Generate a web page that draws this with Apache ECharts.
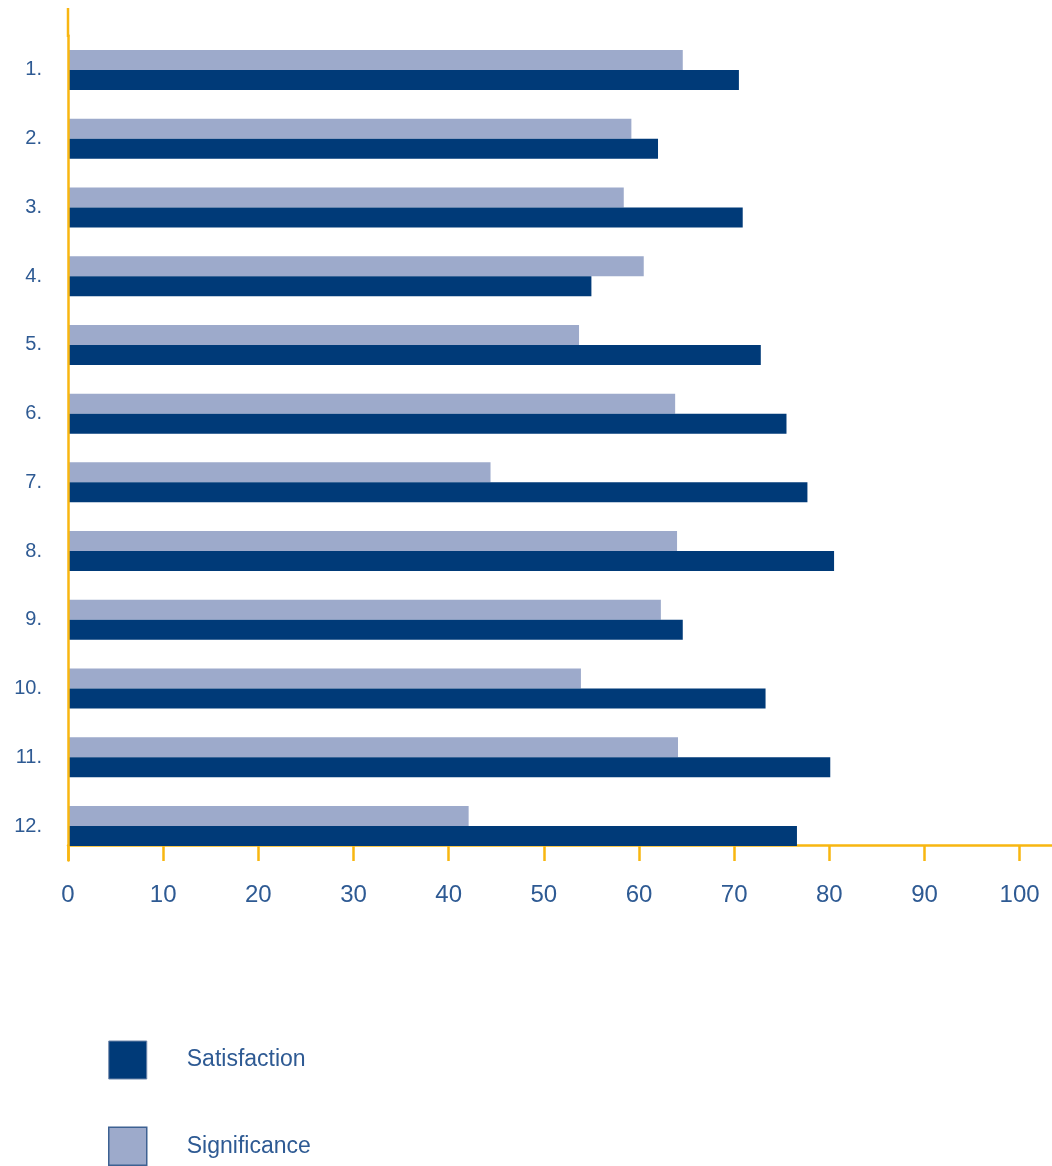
<!DOCTYPE html>
<html>
<head>
<meta charset="utf-8">
<title>Satisfaction and Significance</title>
<script src="https://cdn.jsdelivr.net/npm/echarts@6/dist/echarts.min.js"></script>
<style>
  html, body { margin: 0; padding: 0; background: #ffffff; }
  #chart { width: 1052px; height: 1166px; }
</style>
</head>
<body>
<div id="chart"></div>
<script>
// Item labels, top to bottom
const categories = ['1.', '2.', '3.', '4.', '5.', '6.', '7.', '8.', '9.', '10.', '11.', '12.'];
// Scores per item (0-100)
const satisfaction = [70.5, 62.0, 70.9, 55.0, 72.8, 75.5, 77.7, 80.5, 64.6, 73.3, 80.1, 76.6];
const significance = [64.6, 59.2, 58.4, 60.5, 53.7, 63.8, 44.4, 64.0, 62.3, 53.9, 64.1, 42.1];
// Value axis tick marks
const xTicks = [0, 10, 20, 30, 40, 50, 60, 70, 80, 90, 100];

const AXIS_YELLOW = '#F8B611';
const TEXT_BLUE = '#2E5A93';
const DARK_BLUE = '#003A78';
const LIGHT_BLUE = '#9DAACB';

const chart = echarts.init(document.getElementById('chart'), null, { renderer: 'canvas' });

chart.setOption({
  animation: false,
  backgroundColor: '#ffffff',
  grid: { left: 68, right: 0, top: 35.6, bottom: 305.6, containLabel: false },
  xAxis: {
    type: 'value',
    min: 0,
    max: 103.4,
    offset: -15.4,
    axisLine: { show: true, lineStyle: { color: AXIS_YELLOW, width: 2.5 } },
    axisTick: { show: true, length: 16, customValues: xTicks, lineStyle: { color: AXIS_YELLOW, width: 2.5 } },
    axisLabel: {
      customValues: xTicks,
      margin: 38,
      color: TEXT_BLUE,
      fontFamily: 'Liberation Sans, Arial, sans-serif',
      fontSize: 24
    },
    splitLine: { show: false }
  },
  yAxis: {
    type: 'category',
    data: categories,
    inverse: true,
    z: 5,
    axisLine: { show: true, lineStyle: { color: AXIS_YELLOW, width: 2.5 } },
    axisTick: { show: false },
    axisLabel: {
      margin: 26,
      lineHeight: 20,
      padding: [8, 0, 0, 0],
      color: TEXT_BLUE,
      fontFamily: 'Liberation Sans, Arial, sans-serif',
      fontSize: 20
    }
  },
  graphic: [{
    // upper end of the category axis line above the first band
    type: 'line',
    shape: { x1: 68, y1: 8, x2: 68, y2: 37 },
    style: { stroke: AXIS_YELLOW, lineWidth: 2.5 },
    silent: true
  }],
  legend: {
    orient: 'vertical',
    left: 108,
    bottom: 0,
    padding: 0,
    itemWidth: 38,
    itemHeight: 38,
    itemGap: 47,
    icon: 'rect',
    selectedMode: false,
    textStyle: {
      color: TEXT_BLUE,
      fontFamily: 'Liberation Sans, Arial, sans-serif',
      fontSize: 23,
      padding: [3, 0, 0, 35]
    },
    data: [
      { name: 'Satisfaction', itemStyle: { borderColor: '#6f86aa', borderWidth: 1 } },
      { name: 'Significance', itemStyle: { borderColor: '#3d6192', borderWidth: 1.5 } }
    ]
  },
  series: [
    {
      name: 'Significance',
      type: 'bar',
      data: significance,
      barWidth: 20,
      barGap: '0%',
      itemStyle: { color: LIGHT_BLUE }
    },
    {
      name: 'Satisfaction',
      type: 'bar',
      data: satisfaction,
      barWidth: 20,
      barGap: '0%',
      itemStyle: { color: DARK_BLUE }
    }
  ]
});
</script>
</body>
</html>
